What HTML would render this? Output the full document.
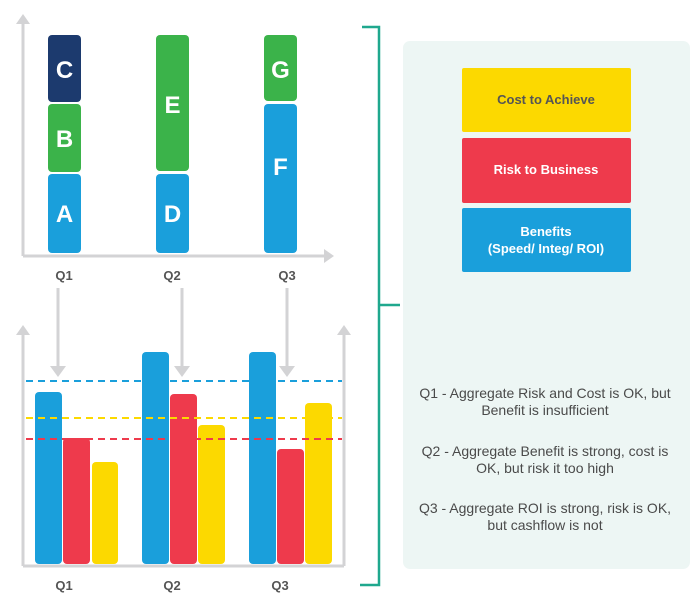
<!DOCTYPE html>
<html><head><meta charset="utf-8"><style>
html,body{margin:0;padding:0;background:#fff;}
svg{display:block;font-family:"Liberation Sans",sans-serif;}
</style></head><body>
<svg width="700" height="611" viewBox="0 0 700 611">
<g stroke="#d3d3d5" stroke-width="3" fill="none">
<line x1="23" y1="22" x2="23" y2="256"/>
<line x1="23" y1="256" x2="326" y2="256"/>
<line x1="58" y1="288" x2="58" y2="368"/>
<line x1="182" y1="288" x2="182" y2="368"/>
<line x1="287" y1="288" x2="287" y2="368"/>
<line x1="23" y1="335" x2="23" y2="566"/>
<line x1="23" y1="566" x2="344" y2="566"/>
<line x1="344" y1="566" x2="344" y2="335"/>
</g>
<g fill="#d3d3d5">
<polygon points="16,24 23,14 30,24"/>
<polygon points="324,249 334,256 324,263"/>
<polygon points="50,366 58,377 66,366"/>
<polygon points="174,366 182,377 190,366"/>
<polygon points="279,366 287,377 295,366"/>
<polygon points="16,335 23,325 30,335"/>
<polygon points="337,335 344,325 351,335"/>
</g>
<g>
<rect x="48" y="35" width="33" height="67" rx="4" fill="#1c3a6e"/>
<rect x="48" y="104" width="33" height="68" rx="4" fill="#3bb34a"/>
<rect x="48" y="174" width="33" height="79" rx="4" fill="#1a9fdb"/>
<rect x="156" y="35" width="33" height="136" rx="4" fill="#3bb34a"/>
<rect x="156" y="174" width="33" height="79" rx="4" fill="#1a9fdb"/>
<rect x="264" y="35" width="33" height="66" rx="4" fill="#3bb34a"/>
<rect x="264" y="104" width="33" height="149" rx="4" fill="#1a9fdb"/>
</g>
<g fill="#fff" font-weight="bold" font-size="24" text-anchor="middle">
<text x="64.5" y="78">C</text><text x="64.5" y="147">B</text><text x="64.5" y="222">A</text>
<text x="172.5" y="113">E</text><text x="172.5" y="222">D</text>
<text x="280.5" y="78">G</text><text x="280.5" y="175">F</text>
</g>
<g fill="#555" font-weight="bold" font-size="13" text-anchor="middle">
<text x="64" y="280">Q1</text><text x="172" y="280">Q2</text><text x="287" y="280">Q3</text>
<text x="64" y="590">Q1</text><text x="172" y="590">Q2</text><text x="280" y="590">Q3</text>
</g>
<g>
<rect x="35" y="392" width="27" height="172" rx="4" fill="#1a9fdb"/>
<rect x="63" y="438" width="27" height="126" rx="4" fill="#ee3a4c"/>
<rect x="92" y="462" width="26" height="102" rx="4" fill="#fcd900"/>
<rect x="142" y="352" width="27" height="212" rx="4" fill="#1a9fdb"/>
<rect x="170" y="394" width="27" height="170" rx="4" fill="#ee3a4c"/>
<rect x="198" y="425" width="27" height="139" rx="4" fill="#fcd900"/>
<rect x="249" y="352" width="27" height="212" rx="4" fill="#1a9fdb"/>
<rect x="277" y="449" width="27" height="115" rx="4" fill="#ee3a4c"/>
<rect x="305" y="403" width="27" height="161" rx="4" fill="#fcd900"/>
</g>
<g stroke-width="2" stroke-dasharray="7,5" fill="none">
<line x1="26" y1="381" x2="342" y2="381" stroke="#1a9fdb"/>
<line x1="26" y1="418" x2="342" y2="418" stroke="#fcd900"/>
<line x1="26" y1="439" x2="342" y2="439" stroke="#ee3a4c"/>
</g>
<path d="M362 27 H379 V585 H360 M379 305 H400" stroke="#1fa88e" stroke-width="2.5" fill="none"/>
<rect x="403" y="41" width="287" height="528" rx="7" fill="#edf6f4"/>
<rect x="462" y="68" width="169" height="64" rx="2" fill="#fcd900"/>
<rect x="462" y="138" width="169" height="65" rx="2" fill="#ee3a4c"/>
<rect x="462" y="208" width="169" height="64" rx="2" fill="#1a9fdb"/>
<g font-size="13" text-anchor="middle">
<text x="546" y="104" fill="#555" font-weight="bold">Cost to Achieve</text>
<text x="546" y="174" fill="#fff" font-weight="bold">Risk to Business</text>
<text x="546" y="236" fill="#fff" font-weight="bold">Benefits</text>
<text x="546" y="253" fill="#fff" font-weight="bold">(Speed/ Integ/ ROI)</text>
</g>
<g font-size="14" text-anchor="middle" fill="#4a4a4a">
<text x="545" y="398">Q1 - Aggregate Risk and Cost is OK, but</text>
<text x="545" y="415">Benefit is insufficient</text>
<text x="545" y="456">Q2 - Aggregate Benefit is strong, cost is</text>
<text x="545" y="473">OK, but risk it too high</text>
<text x="545" y="513">Q3 - Aggregate ROI is strong, risk is OK,</text>
<text x="545" y="530">but cashflow is not</text>
</g>
</svg>
</body></html>
